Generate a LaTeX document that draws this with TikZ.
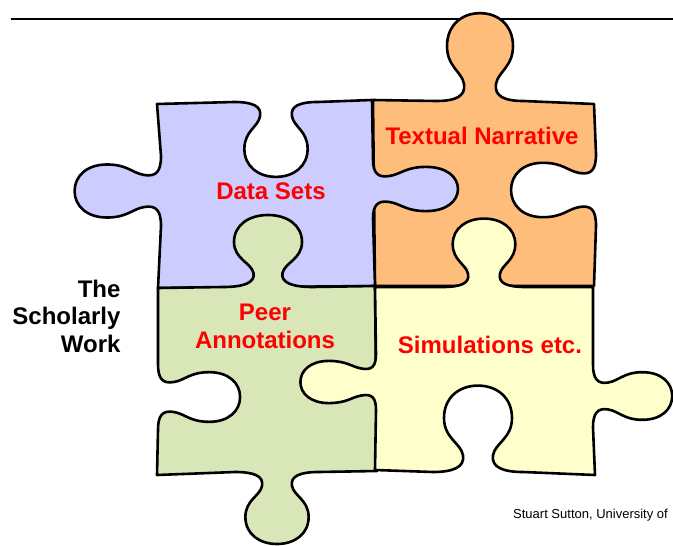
\documentclass[tikz,border=0pt]{standalone}
\usepackage{fontspec}
\setmainfont{Liberation Sans}
\definecolor{blueC}{RGB}{204,204,255}
\definecolor{orangeC}{RGB}{255,189,124}
\definecolor{greenC}{RGB}{216,230,184}
\definecolor{yellowC}{RGB}{255,255,204}
% puzzle tab: #1 cx, #2 cy (px, y down), #3 #4 edge direction, #5 #6 normal towards tab,
% #7 along-scale, #8 normal-scale, #9 neck half width
\newcommand\tab[9]{%
 -- ({#1+(-45*#7)*(#3)+(0*#8)*(#5)},{#2+(-45*#7)*(#4)+(0*#8)*(#6)})
 .. controls ({#1+(-25*#7)*(#3)+(0*#8)*(#5)},{#2+(-25*#7)*(#4)+(0*#8)*(#6)})
 and ({#1+(-#9+2)*(#3)+(4*#8)*(#5)},{#2+(-#9+2)*(#4)+(4*#8)*(#6)})
 .. ({#1+(-#9)*(#3)+(14*#8)*(#5)},{#2+(-#9)*(#4)+(14*#8)*(#6)})
 .. controls ({#1+(-#9-2)*(#3)+(24*#8)*(#5)},{#2+(-#9-2)*(#4)+(24*#8)*(#6)})
 and ({#1+(-34*#7)*(#3)+(28*#8)*(#5)},{#2+(-34*#7)*(#4)+(28*#8)*(#6)})
 .. ({#1+(-34*#7)*(#3)+(45*#8)*(#5)},{#2+(-34*#7)*(#4)+(45*#8)*(#6)})
 .. controls ({#1+(-34*#7)*(#3)+(62*#8)*(#5)},{#2+(-34*#7)*(#4)+(62*#8)*(#6)})
 and ({#1+(-19*#7)*(#3)+(72*#8)*(#5)},{#2+(-19*#7)*(#4)+(72*#8)*(#6)})
 .. ({#1+(0*#7)*(#3)+(72*#8)*(#5)},{#2+(0*#7)*(#4)+(72*#8)*(#6)})
 .. controls ({#1+(19*#7)*(#3)+(72*#8)*(#5)},{#2+(19*#7)*(#4)+(72*#8)*(#6)})
 and ({#1+(34*#7)*(#3)+(62*#8)*(#5)},{#2+(34*#7)*(#4)+(62*#8)*(#6)})
 .. ({#1+(34*#7)*(#3)+(45*#8)*(#5)},{#2+(34*#7)*(#4)+(45*#8)*(#6)})
 .. controls ({#1+(34*#7)*(#3)+(28*#8)*(#5)},{#2+(34*#7)*(#4)+(28*#8)*(#6)})
 and ({#1+(#9+2)*(#3)+(24*#8)*(#5)},{#2+(#9+2)*(#4)+(24*#8)*(#6)})
 .. ({#1+(#9)*(#3)+(14*#8)*(#5)},{#2+(#9)*(#4)+(14*#8)*(#6)})
 .. controls ({#1+(#9-2)*(#3)+(4*#8)*(#5)},{#2+(#9-2)*(#4)+(4*#8)*(#6)})
 and ({#1+(25*#7)*(#3)+(0*#8)*(#5)},{#2+(25*#7)*(#4)+(0*#8)*(#6)})
 .. ({#1+(45*#7)*(#3)+(0*#8)*(#5)},{#2+(45*#7)*(#4)+(0*#8)*(#6)})
}
\begin{document}
\begin{tikzpicture}[x=1pt,y=-1pt,line join=round,
  piece/.style={draw=black,line width=2.6pt},
  lbl/.style={text=red,font=\fontsize{24}{28}\selectfont\bfseries},
  blk/.style={text=black,font=\fontsize{24}{27.5}\selectfont\bfseries}]
\useasboundingbox (0,0) rectangle (673,546);
\coordinate (ruleL) at (11,19);
\coordinate (ruleR) at (673,19);
\draw[line width=1.3pt,black] (ruleL) -- (ruleR);
% orange
\path[piece,fill=orangeC] (373,100) \tab{480}{101}{1}{0}{0}{-1}{0.97}{1.22}{16} -- (594,104)
  \tab{596}{190}{0}{1}{-1}{0}{0.8}{1.18}{17} -- (594,286) -- (375,286) -- cycle;
% blue
\path[piece,fill=blueC] (157,104) \tab{276}{102}{1}{0}{0}{1}{0.93}{1.04}{16} -- (372,100)
  \tab{373}{189}{0}{1}{1}{0}{0.65}{1.18}{13} -- (375,286) -- (158,288)
  \tab{161}{191}{0}{-1}{-1}{0}{0.78}{1.2}{16} -- cycle;
% green
\path[piece,fill=greenC] (158,288) \tab{268}{287}{1}{0}{0}{-1}{1}{1}{14.5} -- (375,286) -- (377,471)
  \tab{277}{472}{-1}{0}{0}{1}{0.93}{1}{15} -- (157,475)
  \tab{158}{397}{0}{-1}{1}{0}{0.73}{1.14}{15} -- cycle;
% yellow
\path[piece,fill=yellowC] (375,287) \tab{484}{287}{1}{0}{0}{-1}{0.92}{0.95}{16} -- (593,287)
  \tab{593}{396}{0}{1}{1}{0}{0.7}{1.1}{13.5} -- (595,475)
  \tab{478}{472}{-1}{0}{0}{-1}{1}{1.2}{15} -- (375,470)
  \tab{376}{382}{0}{-1}{-1}{0}{0.62}{1.05}{13.5} -- cycle;
% labels
\node[lbl] (ds) at (271,191) {Data Sets};
\node[lbl] (tn) at (482,136) {Textual Narrative};
\node[lbl,align=center] (pa) at (265,326) {Peer\\Annotations};
\node[lbl] (sim) at (490,345) {Simulations etc.};
\node[blk,align=right,anchor=east] (sw) at (124,316) {The\\Scholarly\\Work};
\node[anchor=west,inner sep=0pt,font=\fontsize{13}{15}\selectfont] (cr) at (513,515) {Stuart Sutton, University of};
\end{tikzpicture}
\end{document}
